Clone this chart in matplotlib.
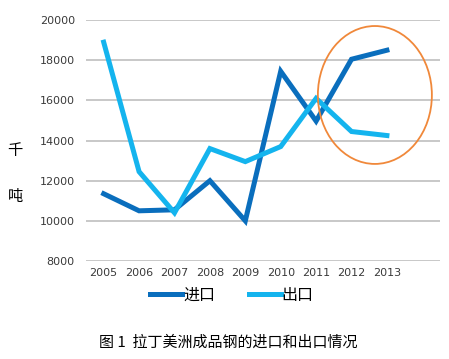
import matplotlib.pyplot as plt
from matplotlib.patches import Ellipse

plt.rcParams['font.family'] = ['Noto Sans CJK SC', 'DejaVu Sans']

years = ['2005', '2006', '2007', '2008', '2009', '2010', '2011', '2012', '2013']
imports = [11350, 10500, 10550, 12000, 10000, 17450, 14970, 18050, 18500]
exports = [18900, 12450, 10400, 13600, 12950, 13700, 16100, 14450, 14250]

fig = plt.figure(figsize=(4.49, 3.59), dpi=100)
ax = fig.add_axes([0.1915, 0.273, 0.7885, 0.671])

x = list(range(len(years)))
ax.plot(x, imports, color='#0A6EBD', lw=3.6, label='进口', solid_joinstyle='miter', zorder=3)
ax.plot(x, exports, color='#14B4EE', lw=3.6, label='出口', solid_joinstyle='miter', zorder=3)

# highlight circle round the last two years
ax.add_patch(Ellipse((7.66, 16270), 3.22, 6870, fill=False, ec='#F0883A', lw=1.3, zorder=4))

ax.set_xlim(-0.5, 9.5)
ax.set_ylim(8000, 20000)
ax.set_yticks(range(8000, 20001, 2000))
ax.set_xticks(x)
ax.set_xticklabels(years)
ax.yaxis.grid(True, color='#BFBFBF', lw=1.2)
ax.set_axisbelow(True)
for s in ax.spines.values():
    s.set_visible(False)
ax.tick_params(length=0, labelsize=8, colors='#3a3a3a')
ax.tick_params(axis='x', pad=5)
ax.tick_params(axis='y', pad=8)
for lab in ax.get_xticklabels() + ax.get_yticklabels():
    lab.set_family('DejaVu Sans')

fig.text(0.034, 0.58, '千', fontsize=11, ha='center', va='center')
fig.text(0.034, 0.452, '吨', fontsize=11, ha='center', va='center')

ax.legend(loc='center', bbox_to_anchor=(0.412, -0.143), ncol=2, frameon=False,
          fontsize=11.5, handlelength=2.0, handletextpad=0.05, columnspacing=2.1)

fig.text(0.509, 0.047, '图 1  拉丁美洲成品钢的进口和出口情况', fontsize=10.8, ha='center', va='center')

fig.savefig('out.png', dpi=100)
